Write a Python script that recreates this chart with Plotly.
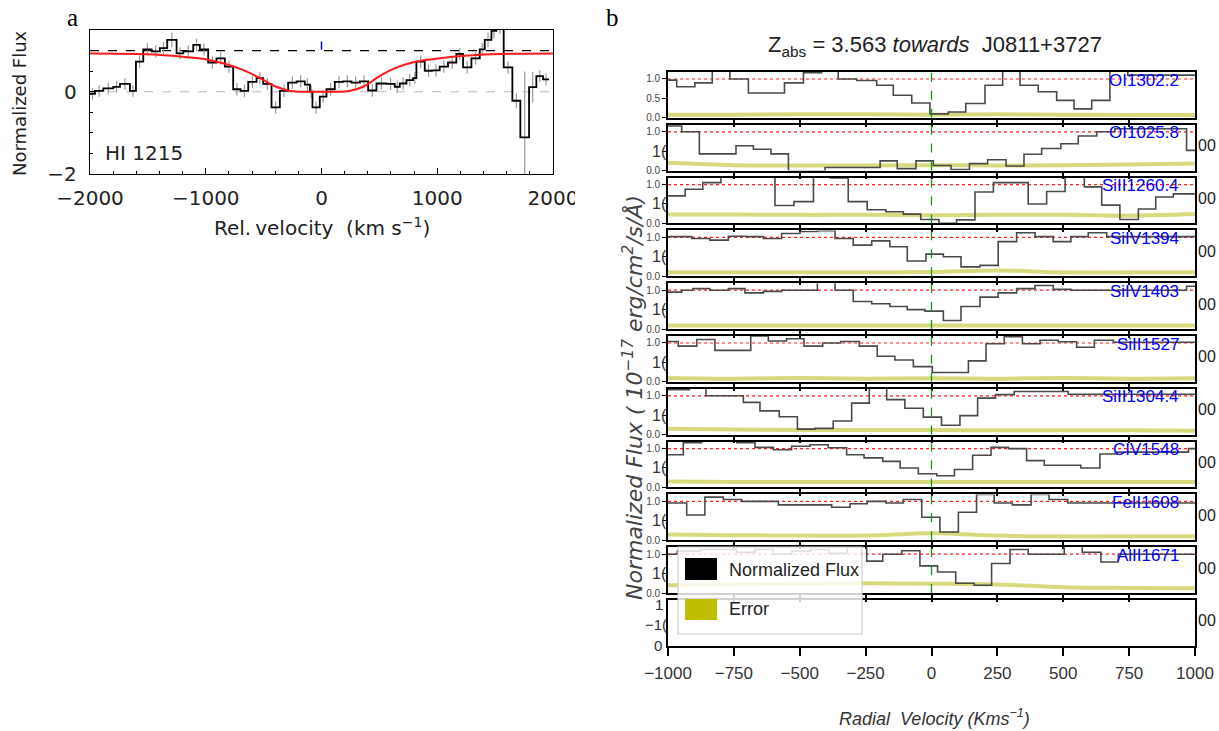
import plotly.graph_objects as go

W, H = 1219, 731


def fx(px):
    return px / W


def fy(py):
    return 1 - py / H


# ---------------- Panel a : HI 1215 ----------------
hi_edges = [-2000, -1957, -1885, -1799, -1741, -1655, -1603, -1540, -1468, -1396,
            -1333, -1252, -1194, -1108, -1051, -979, -907, -835, -763, -699,
            -633, -561, -504, -432, -360, -288, -216, -144, -100, -78,
            -15, 43, 115, 187, 259, 331, 403, 475, 561, 633,
            676, 734, 791, 820, 892, 957, 1021, 1093, 1165, 1223,
            1295, 1367, 1410, 1468, 1511, 1574, 1649, 1718, 1793, 1856,
            1914, 1966]
hi_flux = [-0.05, 0.02, 0.08, 0.12, 0.19, 0.02, 0.73, 1.03, 0.98, 1.06,
           1.26, 0.93, 0.98, 1.14, 1.03, 0.71, 0.81, 0.61, 0.06, 0.02,
           0.24, 0.33, 0.19, -0.38, 0.02, 0.22, 0.25, 0.17, 0.00, -0.38,
           -0.12, 0.06, 0.24, 0.25, 0.22, 0.25, 0.03, 0.20, 0.19, 0.12,
           0.20, 0.28, 0.33, 0.73, 0.51, 0.52, 0.61, 0.71, 0.92, 0.59,
           0.81, 1.03, 1.26, 1.48, 1.60, 0.59, -0.22, -1.11, 0.11, 0.38,
           0.30]
hi_err = [0.14, 0.14, 0.14, 0.14, 0.14, 0.14, 0.15, 0.15, 0.15, 0.15,
          0.18, 0.15, 0.15, 0.15, 0.15, 0.15, 0.15, 0.15, 0.15, 0.15,
          0.15, 0.15, 0.15, 0.15, 0.15, 0.15, 0.15, 0.15, 0.15, 0.15,
          0.15, 0.15, 0.15, 0.15, 0.15, 0.15, 0.15, 0.15, 0.15, 0.15,
          0.15, 0.15, 0.15, 0.15, 0.15, 0.15, 0.15, 0.15, 0.15, 0.15,
          0.15, 0.15, 0.18, 0.18, 0.20, 0.15, 0.18, 1.60, 0.37, 0.15,
          0.15]
fit_vel = [-2000, -1500, -1200, -1000, -850, -680, -530, -390, -270, -130, 0,
           120, 240, 360, 475, 600, 760, 900, 1100, 1340, 1630, 2000]
fit_flux = [0.93, 0.91, 0.85, 0.79, 0.69, 0.53, 0.33, 0.12, 0.02, 0.00, 0.00,
            0.00, 0.02, 0.12, 0.33, 0.53, 0.69, 0.77, 0.84, 0.89, 0.92, 0.93]
hi_continuum = 1.0
hi_zero = 0.0
hi_comp_vel = 0.0
hi_comp_range = [1.02, 1.22]
hi_xticks = [-2000, -1000, 0, 1000, 2000]
hi_xticklabels = ["\u22122000", "\u22121000", "0", "1000", "2000"]
hi_yticks = [-2, 0]
hi_yticklabels = ["\u22122", "0"]

# ---------------- Panel b : metal lines ----------------
line_names = ["OI1302.2", "OI1025.8", "SiII1260.4", "SiIV1394", "SiIV1403",
              "SiII1527", "SiII1304.4", "CIV1548", "FeII1608", "AlII1671"]

oi1302_v = [-1000, -967, -898, -832, -765, -695, -558, -486, -417, -354, -284, -208, -145,
            -75, -6, 64, 130, 203, 270, 336, 405, 475, 541, 608, 677, 745, 1000]
oi1302_f = [0.97, 0.80, 0.90, 1.25, 1.00, 0.64, 0.90, 1.16, 1.25, 1.00, 0.96, 0.84, 0.58,
            0.38, 0.10, 0.15, 0.37, 0.84, 1.25, 0.84, 0.67, 0.45, 0.23, 0.45, 1.25, 1.10]

oi1025_v = [-1000, -948, -881, -742, -676, -609, -543, -404, -195, -130, -59, 7, 74, 144,
            213, 283, 351, 418, 491, 557, 627, 696, 968, 1000]
oi1025_f = [1.15, 1.00, 0.43, 0.64, 0.55, 0.43, -0.02, 0.08, 0.25, 0.05, 0.25, 0.13, 0.03,
            0.18, 0.28, 0.12, 0.42, 0.57, 0.69, 0.89, 1.00, 1.08, 0.52]

siii1260_v = [-1000, -935, -868, -799, -594, -522, -448, -383, -316, -244, -173, -107, -41,
              28, 95, 165, 235, 367, 437, 507, 580, 646, 715, 785, 851, 918, 1000]
siii1260_f = [0.71, 0.88, 1.05, 1.25, 0.46, 0.56, 1.25, 1.17, 0.56, 0.35, 0.30, 0.24, 0.10,
              0.00, 0.09, 0.81, 1.05, 0.50, 0.82, 1.25, 0.94, 0.47, 0.10, 0.37, 0.68, 0.76]

siiv1394_v = [-1000, -910, -841, -771, -704, -638, -569, -499, -433, -366, -297, -227, -158,
              -92, -21, 45, 112, 184, 253, 323, 393, 462, 529, 595, 665, 1000]
siiv1394_f = [1.02, 0.97, 0.93, 1.03, 1.02, 0.97, 1.10, 1.15, 1.17, 0.97, 0.80, 0.91, 0.76,
              0.39, 0.57, 0.50, 0.24, 0.28, 0.89, 1.12, 1.02, 0.89, 1.02, 1.12, 1.02]

siiv1403_v = [-1000, -948, -906, -841, -771, -708, -638, -569, -433, -366, -297, -227, -158,
              -92, -25, 45, 112, 184, 253, 323, 393, 462, 529, 968, 1000]
siiv1403_f = [0.95, 1.00, 1.04, 1.00, 1.04, 0.93, 0.97, 1.00, 1.25, 1.00, 0.71, 0.65, 0.58,
              0.50, 0.46, 0.22, 0.58, 0.82, 0.93, 1.04, 1.12, 1.02, 1.00, 1.10]

siii1527_v = [-1000, -961, -891, -822, -686, -619, -550, -484, -413, -345, -274, -206, -139,
              -69, 3, 140, 207, 276, 345, 412, 481, 551, 618, 690, 1000]
siii1527_f = [1.04, 0.92, 1.09, 0.81, 1.18, 1.05, 1.11, 0.92, 1.00, 1.04, 0.92, 0.66, 0.56,
              0.39, 0.24, 0.54, 0.98, 1.16, 0.98, 1.07, 1.03, 0.89, 1.07, 1.02]

siii1304_v = [-1000, -919, -856, -714, -651, -578, -509, -442, -373, -303, -236, -170, -101,
              -31, 38, 108, 175, 243, 314, 519, 1000]
siii1304_f = [1.16, 1.25, 1.00, 0.83, 0.61, 0.46, 0.14, 0.16, 0.35, 0.81, 1.25, 0.90, 0.68,
              0.45, 0.24, 0.49, 0.94, 1.03, 1.11, 1.04]

civ1548_v = [-1000, -942, -872, -739, -670, -600, -531, -461, -392, -322, -256, -185, -119,
             -50, 20, 87, 156, 226, 292, 361, 428, 567, 639, 703, 975, 1000]
civ1548_f = [0.84, 1.15, 1.25, 1.15, 1.03, 0.97, 1.06, 1.10, 1.02, 0.84, 0.76, 0.67, 0.50,
             0.35, 0.30, 0.46, 0.83, 1.03, 1.00, 0.69, 0.57, 0.50, 0.86, 0.91, 1.00]

feii1608_v = [-1000, -929, -860, -790, -720, -581, -379, -309, -244, -173, -107, -37, 32,
              102, 171, 238, 307, 378, 446, 517, 1000]
feii1608_f = [0.96, 0.65, 1.11, 1.05, 1.00, 0.91, 0.85, 0.94, 1.00, 0.96, 1.05, 0.59, 0.21,
              0.72, 1.18, 0.96, 0.91, 1.18, 1.05, 0.96]

alii1671_v = [-1000, -965, -880, -740, -670, -600, -530, -460, -390, -320, -246, -185, -113,
              -44, 23, 92, 162, 228, 298, 367, 504, 572, 643, 709, 1000]
alii1671_f = [1.00, 1.08, 1.12, 1.05, 1.12, 1.00, 1.08, 1.12, 1.02, 1.20, 0.82, 1.00, 1.09,
              0.70, 0.54, 0.25, 0.20, 0.76, 1.12, 1.00, 1.25, 1.05, 0.80, 1.00]

err_vel = [-1000, -750, -500, -250, 0, 250, 500, 750, 1000]
oi1302_e = [0.08, 0.08, 0.09, 0.09, 0.08, 0.09, 0.08, 0.07, 0.07]
oi1025_e = [0.20, 0.14, 0.13, 0.13, 0.14, 0.13, 0.14, 0.16, 0.18]
siii1260_e = [0.23, 0.23, 0.22, 0.22, 0.21, 0.22, 0.22, 0.20, 0.24]
siiv1394_e = [0.10, 0.10, 0.10, 0.10, 0.11, 0.15, 0.10, 0.10, 0.10]
siiv1403_e = [0.09, 0.09, 0.09, 0.09, 0.09, 0.09, 0.09, 0.09, 0.09]
siii1527_e = [0.10, 0.08, 0.10, 0.08, 0.09, 0.08, 0.10, 0.08, 0.09]
siii1304_e = [0.15, 0.13, 0.12, 0.12, 0.12, 0.11, 0.11, 0.11, 0.10]
civ1548_e = [0.15, 0.14, 0.14, 0.14, 0.14, 0.14, 0.14, 0.14, 0.14]
feii1608_e = [0.15, 0.13, 0.12, 0.12, 0.18, 0.12, 0.10, 0.10, 0.10]
alii1671_e = [0.20, 0.22, 0.24, 0.25, 0.24, 0.22, 0.15, 0.13, 0.12]

b_vel = [oi1302_v, oi1025_v, siii1260_v, siiv1394_v, siiv1403_v,
         siii1527_v, siii1304_v, civ1548_v, feii1608_v, alii1671_v]
b_flux = [oi1302_f, oi1025_f, siii1260_f, siiv1394_f, siiv1403_f,
          siii1527_f, siii1304_f, civ1548_f, feii1608_f, alii1671_f]
b_err = [oi1302_e, oi1025_e, siii1260_e, siiv1394_e, siiv1403_e,
         siii1527_e, siii1304_e, civ1548_e, feii1608_e, alii1671_e]

b_xticks = [-1000, -750, -500, -250, 0, 250, 500, 750, 1000]
b_xticklabels = ["\u22121000", "\u2212750", "\u2212500", "\u2212250", "0", "250", "500", "750", "1000"]
b_yticks_first = [0.0, 0.5, 1.0]
b_yticklabels_first = ["0.0", "0.5", "1.0"]
b_yticks_rest = [0.0, 1.0]
b_yticklabels_rest = ["0.0", "1.0"]
b_ytick_mid = [0.5]
b_continuum = 1.0
b_vsys = 0.0

NARROW = "Liberation Sans"
SANS = "DejaVu Sans"

fig = go.Figure()
layout = {}
shapes = []
annotations = []

# ----- panel a -----
fig.add_trace(go.Scatter(
    x=[(a + b) / 2 for a, b in zip(hi_edges[:-1], hi_edges[1:])], y=hi_flux,
    mode="markers", marker=dict(size=1, color="rgba(0,0,0,0)"),
    error_y=dict(type="data", array=hi_err, color="#9a9a9a", thickness=1.2, width=0),
    xaxis="x", yaxis="y", showlegend=False, hoverinfo="skip"))
fig.add_trace(go.Scatter(
    x=hi_edges, y=hi_flux + [hi_flux[-1]], mode="lines",
    line=dict(color="black", width=1.8, shape="hv"),
    xaxis="x", yaxis="y", showlegend=False))
fig.add_trace(go.Scatter(
    x=fit_vel, y=fit_flux, mode="lines",
    line=dict(color="#ff1a1a", width=2, shape="spline", smoothing=1.0),
    xaxis="x", yaxis="y", showlegend=False))

shapes.append(dict(type="line", xref="x domain", yref="y", x0=0, x1=1, y0=hi_continuum, y1=hi_continuum,
                   line=dict(color="black", width=1.3, dash="dash"), layer="below"))
shapes.append(dict(type="line", xref="x domain", yref="y", x0=0, x1=1, y0=hi_zero, y1=hi_zero,
                   line=dict(color="#bdbdbd", width=1.1, dash="dash"), layer="below"))
shapes.append(dict(type="line", xref="x", yref="y", x0=hi_comp_vel, x1=hi_comp_vel,
                   y0=hi_comp_range[0], y1=hi_comp_range[1],
                   line=dict(color="blue", width=1.5)))

layout["xaxis"] = dict(domain=[fx(90), fx(553)], anchor="y", range=[-2000, 2000], automargin=False,
                       showline=True, mirror=True, linecolor="black", linewidth=1.3,
                       ticks="inside", ticklen=6, tickwidth=1.2, tickcolor="black",
                       tickvals=hi_xticks, ticktext=hi_xticklabels, ticklabelstandoff=6,
                       minor=dict(dtick=200, tick0=0, ticks="inside", ticklen=3, tickcolor="black"),
                       tickfont=dict(family=SANS, size=20, color="#222"),
                       showgrid=False, zeroline=False)
layout["yaxis"] = dict(domain=[fy(174), fy(30)], anchor="x", range=[-2, 1.5], automargin=False,
                       showline=True, mirror=True, linecolor="black", linewidth=1.3,
                       ticks="inside", ticklen=6, tickwidth=1.2, tickcolor="black",
                       tickvals=hi_yticks, ticktext=hi_yticklabels, ticklabelstandoff=8,
                       minor=dict(dtick=0.5, tick0=0, ticks="inside", ticklen=3, tickcolor="black"),
                       tickfont=dict(family=SANS, size=20, color="#222"),
                       showgrid=False, zeroline=False)

annotations += [
    dict(text="HI 1215", x=fx(103), y=fy(153), xanchor="left", yanchor="middle",
         font=dict(family=SANS, size=20, color="#222")),
    dict(text="Rel.\u202fvelocity\u00a0\u00a0(km s<sup>\u22121</sup>)", x=fx(322), y=fy(227),
         xanchor="center", yanchor="middle", font=dict(family=SANS, size=20, color="#222")),
    dict(text="Normalized Flux", x=fx(19), y=fy(103), textangle=-90,
         xanchor="center", yanchor="middle", font=dict(family=SANS, size=18, color="#222")),
    dict(text="a", x=fx(72), y=fy(17), xanchor="center", yanchor="middle",
         font=dict(family="Liberation Serif", size=25, color="black")),
    dict(text="b", x=fx(612), y=fy(17), xanchor="center", yanchor="middle",
         font=dict(family="Liberation Serif", size=25, color="black")),
]
# clip last tick label of panel a like the cropped original
shapes.append(dict(type="rect", xref="paper", yref="paper", x0=fx(575), x1=fx(605),
                   y0=fy(214), y1=fy(180), fillcolor="white", line=dict(width=0), layer="above"))

# ----- panel b -----
n_sub = 11
pitch = 52.8
sub_h = 45.8
top0 = 72
for i in range(n_sub):
    top = top0 + pitch * i
    bot = top + sub_h
    k = i + 2
    xa, ya = "x%d" % k, "y%d" % k
    last = (i == n_sub - 1)
    layout["xaxis%d" % k] = dict(
        domain=[fx(668), fx(1195)], anchor=ya, range=[-1000, 1000], automargin=False,
        showline=True, mirror=True, linecolor="black", linewidth=1.6,
        ticks="outside", ticklen=7 if not last else 8, tickwidth=1.6, tickcolor="black",
        tickvals=b_xticks if last else b_xticks[1:-1],
        ticktext=b_xticklabels if last else b_xticklabels[1:-1],
        showticklabels=last, ticklabelstandoff=3,
        tickfont=dict(family=NARROW, size=17, color="#333"),
        showgrid=False, zeroline=False)
    ydict = dict(
        domain=[fy(bot), fy(top)], anchor=xa, range=[0, 1.18], automargin=False,
        showline=True, mirror=True, linecolor="black", linewidth=1.6,
        ticks="" if last else "outside", ticklen=4, tickwidth=1.2, tickcolor="black",
        tickvals=b_yticks_first if i == 0 else b_yticks_rest,
        ticktext=b_yticklabels_first if i == 0 else b_yticklabels_rest,
        showticklabels=not last,
        tickfont=dict(family=NARROW, size=10, color="#444"),
        showgrid=False, zeroline=False)
    if 0 < i < n_sub - 1:
        ydict["minor"] = dict(tickvals=b_ytick_mid, ticks="outside", ticklen=4, tickwidth=1.2,
                              tickcolor="black", showgrid=False)
    layout["yaxis%d" % k] = ydict

    if not last:
        v = b_vel[i]
        f = b_flux[i]
        fig.add_trace(go.Scatter(
            x=err_vel, y=b_err[i], mode="lines",
            line=dict(color="rgba(185,185,20,0.55)", width=4, shape="spline"),
            xaxis=xa, yaxis=ya, showlegend=False, hoverinfo="skip"))
        fig.add_trace(go.Scatter(
            x=v, y=f + [f[-1]], mode="lines",
            line=dict(color="#4a4a4a", width=1.6, shape="hv"),
            xaxis=xa, yaxis=ya, showlegend=False))
        shapes.append(dict(type="line", xref="%s domain" % xa, yref=ya, x0=0, x1=1,
                           y0=b_continuum, y1=b_continuum,
                           line=dict(color="#ff2020", width=1.2, dash="dot"), layer="below"))
        shapes.append(dict(type="line", xref=xa, yref="%s domain" % ya, x0=b_vsys, x1=b_vsys,
                           y0=0, y1=1, line=dict(color="#109a10", width=1.3, dash="dash")))
        annotations.append(dict(text=line_names[i], x=fx(1181), y=fy(top + 8),
                                xanchor="right", yanchor="middle",
                                font=dict(family=NARROW, size=17, color="blue")))
        if i >= 1:
            annotations.append(dict(text="1(", x=fx(669), y=fy(bot - 0.5 * sub_h / 1.18),
                                    xanchor="right", yanchor="middle",
                                    font=dict(family=NARROW, size=16, color="#333")))
    else:
        # empty bottom frame (no spectrum), kept so the axes are drawn
        fig.add_trace(go.Scatter(x=[None], y=[None], mode="lines", xaxis=xa, yaxis=ya,
                                 showlegend=False, hoverinfo="skip"))
    if i >= 1:
        annotations.append(dict(text="00", x=fx(1196), y=fy((top + bot) / 2 - 2),
                                xanchor="left", yanchor="middle",
                                font=dict(family=NARROW, size=16, color="#222")))

last_top = top0 + pitch * (n_sub - 1)
annotations += [
    dict(text="1", x=fx(665), y=fy(last_top + 4), xanchor="right", yanchor="middle",
         font=dict(family=NARROW, size=15, color="#333")),
    dict(text="\u22121(", x=fx(669), y=fy(last_top + 24), xanchor="right", yanchor="middle",
         font=dict(family=NARROW, size=15, color="#333")),
    dict(text="0", x=fx(664), y=fy(last_top + 45), xanchor="right", yanchor="middle",
         font=dict(family=NARROW, size=15, color="#333")),
]

annotations += [
    dict(text="Z<sub>abs</sub> = 3.563 <i>towards</i>\u00a0\u00a0J0811+3727", x=fx(935), y=fy(46),
         xanchor="center", yanchor="middle", font=dict(family=NARROW, size=22, color="#222")),
    dict(text="<i>Radial\u00a0\u00a0Velocity (Kms<sup>\u22121</sup>)</i>", x=fx(934), y=fy(717),
         xanchor="center", yanchor="middle", font=dict(family=NARROW, size=18, color="#333")),
    dict(text="<i>Normalized Flux ( 10<sup>\u221217</sup> erg/cm<sup>2</sup>/s/\u00c5)</i>",
         x=fx(633), y=fy(398), textangle=-90, xanchor="center", yanchor="middle",
         font=dict(family=SANS, size=22, color="#444")),
]

# legend box drawn by hand
shapes += [
    dict(type="rect", xref="paper", yref="paper", x0=fx(678), x1=fx(862), y0=fy(634), y1=fy(547),
         fillcolor="rgba(255,255,255,0.82)", line=dict(color="#d0d0d0", width=1.2), layer="above"),
    dict(type="rect", xref="paper", yref="paper", x0=fx(685), x1=fx(717), y0=fy(580), y1=fy(558),
         fillcolor="black", line=dict(width=0), layer="above"),
    dict(type="rect", xref="paper", yref="paper", x0=fx(685), x1=fx(717), y0=fy(620), y1=fy(599),
         fillcolor="#bfbf00", line=dict(width=0), layer="above"),
]
annotations += [
    dict(text="Normalized Flux", x=fx(727), y=fy(570), xanchor="left", yanchor="middle",
         font=dict(family=NARROW, size=18, color="#222")),
    dict(text="Error", x=fx(727), y=fy(609), xanchor="left", yanchor="middle",
         font=dict(family=NARROW, size=18, color="#222")),
]

for a in annotations:
    a.setdefault("xref", "paper")
    a.setdefault("yref", "paper")
    a.setdefault("showarrow", False)

fig.update_layout(width=W, height=H, margin=dict(l=0, r=0, t=0, b=0, autoexpand=False),
                  paper_bgcolor="white", plot_bgcolor="white",
                  showlegend=False, shapes=shapes, annotations=annotations, **layout)

fig.write_html("out.html")
